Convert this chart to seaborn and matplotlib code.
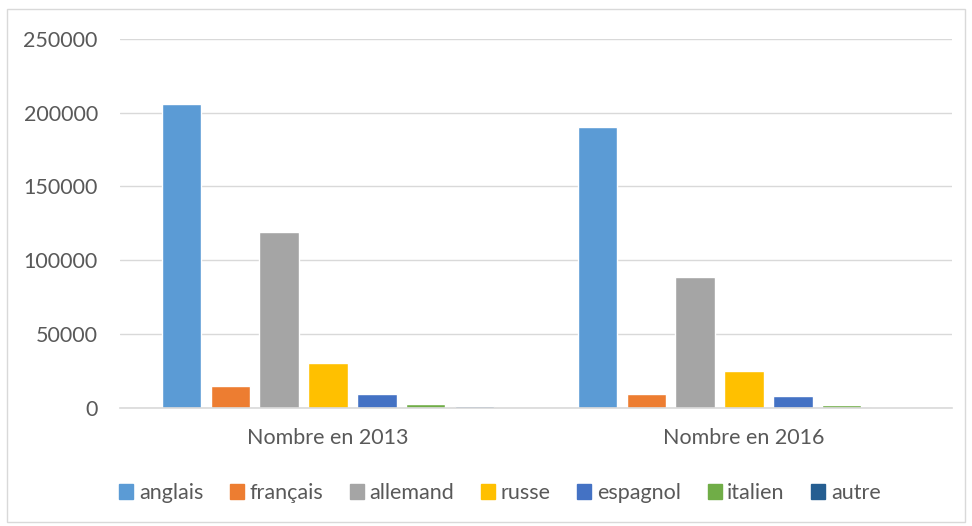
import matplotlib
matplotlib.use("Agg")
import matplotlib.pyplot as plt
import seaborn as sns
import pandas as pd
from matplotlib.patches import Rectangle

# data
groups = ["Nombre en 2013", "Nombre en 2016"]
langues = ["anglais", "français", "allemand", "russe", "espagnol", "italien", "autre"]
n_2013 = [206100, 14300, 119300, 30000, 9000, 2200, 700]
n_2016 = [190250, 8900, 88800, 25000, 8100, 1600, 500]
couleurs = ["#5B9BD5", "#ED7D31", "#A5A5A5", "#FFC000", "#4472C4", "#70AD47", "#255E91"]

df = pd.DataFrame({
    "groupe": [groups[0]] * len(langues) + [groups[1]] * len(langues),
    "langue": langues + langues,
    "nombre": n_2013 + n_2016,
})

sns.set_style("white")
plt.rcParams["font.family"] = ["Lato", "DejaVu Sans"]
txt = "#595959"

fig = plt.figure(figsize=(9.72, 5.26), dpi=100)
ax = fig.add_axes([120/972, 1-407.5/526, 832/972, (407.5-39)/526])

sns.barplot(data=df, x="groupe", y="nombre", hue="langue", hue_order=langues,
            order=groups, palette=couleurs, width=0.8245, gap=0.204,
            saturation=1, ax=ax, legend=False)

ax.set_xlim(-0.5, 1.5)
ax.set_ylim(0, 250000)
ax.set_yticks(range(0, 250001, 50000))
ax.set_yticklabels([str(v) for v in range(0, 250001, 50000)])
ax.yaxis.grid(True, color="#D9D9D9", lw=1)
ax.set_axisbelow(True)
for s in ["top", "right", "left"]:
    ax.spines[s].set_visible(False)
ax.spines["bottom"].set_color("#D9D9D9")
ax.spines["bottom"].set_linewidth(1.2)
ax.tick_params(axis="both", length=0, labelsize=15.5, labelcolor=txt)
ax.tick_params(axis="y", pad=16)
ax.tick_params(axis="x", pad=15)
ax.set_xlabel("")
ax.set_ylabel("")

handles = [Rectangle((0, 0), 1, 1, color=c) for c in couleurs]
fig.legend(handles, langues, loc="center", bbox_to_anchor=(500/972, 1-493/526),
           ncol=7, frameon=False, fontsize=15.5, labelcolor=txt,
           handlelength=0.65, handleheight=0.65, handletextpad=0.25, columnspacing=1.25)

fig.patches.append(Rectangle((7/972, 4/526), (965-7)/972, (517-4)/526,
                             transform=fig.transFigure, fill=False,
                             edgecolor="#D9D9D9", lw=1))

fig.savefig("out.png", dpi=100)
